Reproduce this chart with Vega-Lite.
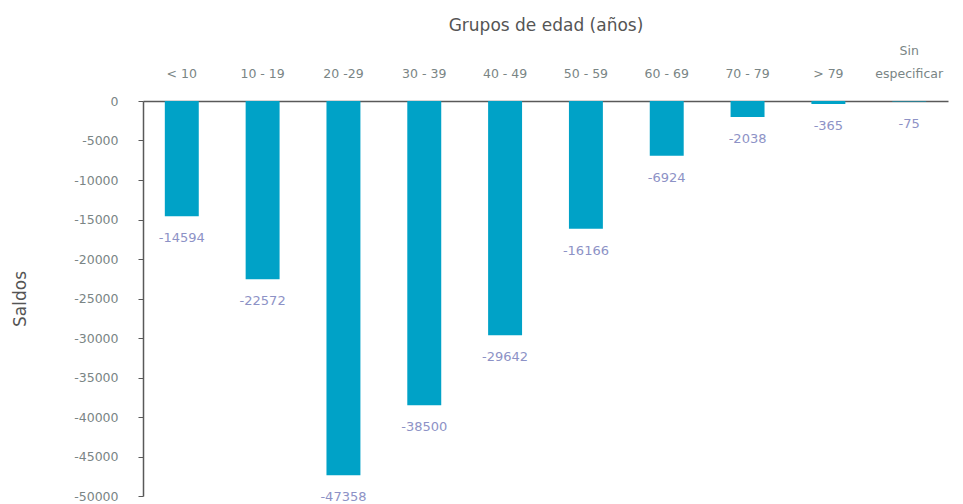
{
  "$schema": "https://vega.github.io/schema/vega-lite/v6.json",
  "width": 805,
  "height": 395,
  "autosize": "none",
  "padding": {"left": 143, "top": 101, "right": 15, "bottom": 8},
  "background": "white",
  "data": {
    "values": [
      {"grupo": "< 10", "saldo": -14594},
      {"grupo": "10 - 19", "saldo": -22572},
      {"grupo": "20 -29", "saldo": -47358},
      {"grupo": "30 - 39", "saldo": -38500},
      {"grupo": "40 - 49", "saldo": -29642},
      {"grupo": "50 - 59", "saldo": -16166},
      {"grupo": "60 - 69", "saldo": -6924},
      {"grupo": "70 - 79", "saldo": -2038},
      {"grupo": "> 79", "saldo": -365},
      {"grupo": "Sin especificar", "saldo": -75}
    ]
  },
  "config": {
    "view": {"stroke": null},
    "font": "DejaVu Sans"
  },
  "encoding": {
    "x": {
      "field": "grupo",
      "type": "nominal",
      "sort": null,
      "scale": {"paddingInner": 0.58, "paddingOuter": 0.27},
      "axis": {
        "orient": "top",
        "title": "Grupos de edad  (años)",
        "titleFont": "DejaVu Sans",
        "titleFontSize": 17,
        "titleFontWeight": "normal",
        "titleColor": "#555555",
        "titlePadding": 10,
        "labelAngle": 0,
        "labelFontSize": 12.5,
        "labelColor": "#7a8585",
        "labelPadding": 39,
        "labelBaseline": "line-bottom",
        "labelLineHeight": 23,
        "labelExpr": "datum.label == 'Sin especificar' ? ['Sin', 'especificar'] : [' ', datum.label]",
        "ticks": false,
        "domainColor": "#595959",
        "domainWidth": 1.5
      }
    },
    "y": {
      "field": "saldo",
      "type": "quantitative",
      "scale": {"domain": [-50000, 0], "nice": false},
      "axis": {
        "title": "Saldos",
        "titleFont": "DejaVu Sans",
        "titleFontSize": 17,
        "titleFontWeight": "normal",
        "titleColor": "#555555",
        "titlePadding": 44,
        "values": [0, -5000, -10000, -15000, -20000, -25000, -30000, -35000, -40000, -45000, -50000],
        "labelExpr": "'' + datum.value",
        "labelFontSize": 12.5,
        "labelColor": "#7a8585",
        "labelPadding": 20,
        "grid": false,
        "tickSize": 5,
        "tickColor": "#595959",
        "domainColor": "#595959",
        "domainWidth": 1.5
      }
    }
  },
  "layer": [
    {"mark": {"type": "bar", "color": "#00a2c7"}},
    {
      "mark": {"type": "text", "baseline": "top", "dy": 16, "fontSize": 13, "color": "#8d92c6"},
      "encoding": {"text": {"field": "saldo", "type": "nominal"}}
    }
  ]
}
